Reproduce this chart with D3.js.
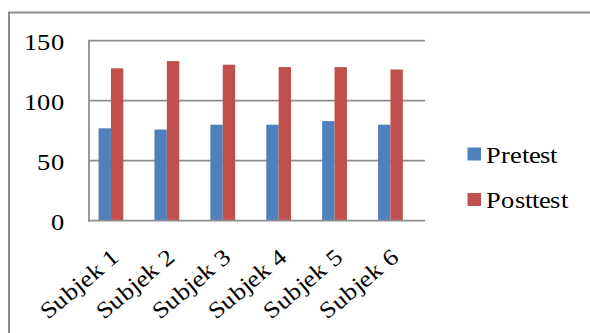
<!DOCTYPE html>
<html>
<head>
<meta charset="utf-8">
<script src="https://cdn.jsdelivr.net/npm/d3@7"></script>
<style>
  @font-face { font-family: "ChartSerif"; src: local("Liberation Serif"), local("LiberationSerif-Regular"), local("Tinos"); }
  svg text { font-family: "ChartSerif", "Liberation Serif", "Times New Roman", serif !important; }
</style>
</head>
<body style="margin:0">
<svg id="chart" width="590" height="333"></svg>
<script>
const categories = ["Subjek 1", "Subjek 2", "Subjek 3", "Subjek 4", "Subjek 5", "Subjek 6"];
const seriesNames = ["Pretest", "Posttest"];
const pretest = [77, 76, 80, 80, 83, 80];
const posttest = [127, 133, 130, 128, 128, 126];
const yTicks = [0, 50, 100, 150];
const colors = ["#4F81BD", "#C0504D"];

const values = [pretest, posttest];
const svg = d3.select("#chart");
const FS = 23;
const STRETCH = 1.15;

function stretch(sel) {
  sel.each(function () {
    const len = this.getComputedTextLength();
    d3.select(this).attr("textLength", len * STRETCH).attr("lengthAdjust", "spacingAndGlyphs");
  });
}

// outer frame
svg.append("rect")
  .attr("x", 9).attr("y", 12.5).attr("width", 600).attr("height", 340)
  .attr("fill", "none").attr("stroke", "#8a8a8a").attr("stroke-width", 2);

const plotL = 89, plotR = 425;
const y = d3.scaleLinear().domain([0, 150]).range([220.7, 40.7]);
const x0 = d3.scaleBand().domain(categories).range([83, 418.4]).padding(0);
const x1 = d3.scaleBand().domain(seriesNames).range([0, x0.bandwidth()]).paddingInner(0).paddingOuter(1.254);

// gridlines
svg.append("g").selectAll("line").data(yTicks.filter(d => d > 0)).join("line")
  .attr("x1", plotL).attr("x2", plotR)
  .attr("y1", d => y(d)).attr("y2", d => y(d))
  .attr("stroke", "#8e8e8e").attr("stroke-width", 1.8);

// bars
const g = svg.append("g");
seriesNames.forEach((s, si) => {
  g.selectAll(null).data(categories).join("rect")
    .attr("x", c => x0(c) + x1(s))
    .attr("y", (c, i) => y(values[si][i]))
    .attr("width", x1.bandwidth())
    .attr("height", (c, i) => y(0) - y(values[si][i]))
    .attr("fill", colors[si]);
});

// axes lines
svg.append("line").attr("x1", plotL).attr("x2", plotL).attr("y1", y(150) - 1).attr("y2", y(0) + 1)
  .attr("stroke", "#8e8e8e").attr("stroke-width", 1.8);
svg.append("line").attr("x1", plotL - 1).attr("x2", plotR).attr("y1", y(0)).attr("y2", y(0))
  .attr("stroke", "#8e8e8e").attr("stroke-width", 1.8);

function draw() {
  // y labels
  svg.append("g").selectAll("text").data(yTicks).join("text")
    .attr("x", 65).attr("y", d => y(d) + 9)
    .attr("text-anchor", "end")
    .attr("font-size", FS)
    .attr("fill", "#000")
    .text(d => d)
    .call(stretch);

  // x labels
  svg.append("g").selectAll("text").data(categories).join("text")
    .attr("transform", c => `translate(${x0(c) + x0.bandwidth() / 2 + 10},259) rotate(-40)`)
    .attr("text-anchor", "end")
    .attr("font-size", FS)
    .attr("fill", "#000")
    .text(c => c)
    .call(stretch);

  // legend
  svg.append("g").selectAll("rect").data(seriesNames).join("rect")
    .attr("x", 467.5).attr("y", (s, i) => 147.5 + i * 45.5)
    .attr("width", 13.5).attr("height", 13)
    .attr("fill", (s, i) => colors[i]);
  svg.append("g").selectAll("text").data(seriesNames).join("text")
    .attr("x", 486).attr("y", (s, i) => 162.5 + i * 45.5)
    .attr("font-size", FS)
    .attr("fill", "#000")
    .text(s => s)
    .call(stretch);
}

if (document.fonts && document.fonts.load) {
  document.fonts.load(FS + 'px "ChartSerif"').then(draw, draw);
} else {
  draw();
}
</script>
</body>
</html>
